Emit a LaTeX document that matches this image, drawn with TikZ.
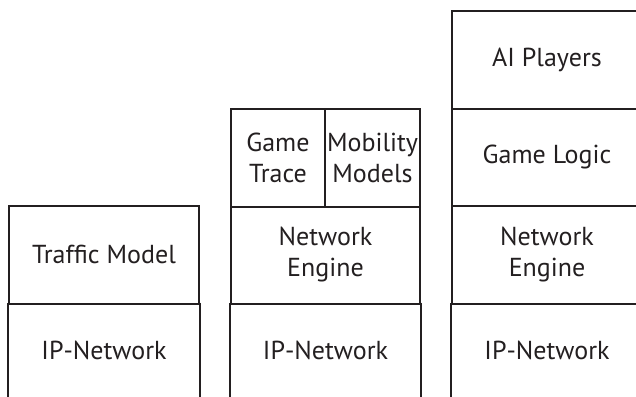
\documentclass[tikz,border=0pt]{standalone}
\usepackage{fontspec}
\setmainfont{PT Sans}
\definecolor{ink}{RGB}{35,31,32}
\begin{document}
\begin{tikzpicture}[x=1pt,y=-1pt,
  layer/.style={draw=ink, line width=2pt, rectangle, inner sep=0pt, anchor=north west,
    align=center, font=\fontsize{26}{31}\selectfont, text=ink},
  openlayer/.style={layer, draw=none},
  side/.style={draw=ink, line width=2pt}]
\useasboundingbox (0,0) rectangle (636,396);
\clip (0,0) rectangle (636,396);
% stack 1
\node[layer, minimum width=190pt, minimum height=97.5pt] (traffic) at (8,205) {Traffic Model};
\node[openlayer, minimum width=190pt, minimum height=93.5pt] (ip1) at (8,302.5) {IP-Network};
\draw[side] (ip1.north west) -- ([yshift=-20pt]ip1.south west);
\draw[side] (ip1.north east) -- ([yshift=-20pt]ip1.south east);
% stack 2
\node[layer, minimum width=94pt, minimum height=97.5pt] (trace) at (230,108) {Game\\Trace};
\node[layer, minimum width=95pt, minimum height=97.5pt] (mobility) at (324,108) {Mobility\\Models};
\node[layer, minimum width=189pt, minimum height=97pt] (engine2) at (230,205.5) {Network\\Engine};
\node[openlayer, minimum width=189pt, minimum height=93.5pt] (ip2) at (230,302.5) {IP-Network};
\draw[side] (ip2.north west) -- ([yshift=-20pt]ip2.south west);
\draw[side] (ip2.north east) -- ([yshift=-20pt]ip2.south east);
% stack 3
\node[layer, minimum width=190pt, minimum height=97.5pt] (ai) at (451,10) {AI Players};
\node[layer, minimum width=190pt, minimum height=97.5pt] (logic) at (451,107.5) {Game Logic};
\node[layer, minimum width=190pt, minimum height=97.5pt] (engine3) at (451,205) {Network\\Engine};
\node[openlayer, minimum width=190pt, minimum height=93.5pt] (ip3) at (451,302.5) {IP-Network};
\draw[side] (ip3.north west) -- ([yshift=-20pt]ip3.south west);
\draw[side] (ip3.north east) -- ([yshift=-20pt]ip3.south east);
\end{tikzpicture}
\end{document}
